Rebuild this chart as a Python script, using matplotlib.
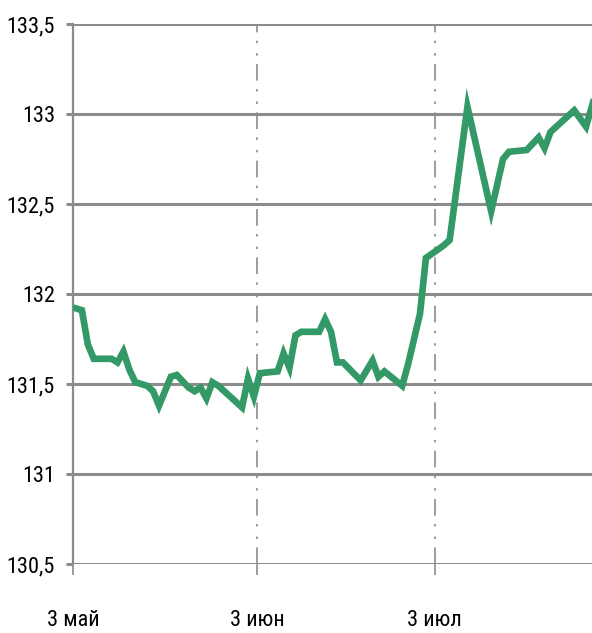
import numpy as np
import pandas as pd
import matplotlib
matplotlib.use("Agg")
import matplotlib.pyplot as plt
from matplotlib.ticker import FuncFormatter

# values
dates = [
    "2024-05-03", "2024-05-04", "2024-05-05", "2024-05-06", "2024-05-09",
    "2024-05-10", "2024-05-11", "2024-05-12", "2024-05-13", "2024-05-15",
    "2024-05-16", "2024-05-17", "2024-05-19", "2024-05-20", "2024-05-22",
    "2024-05-23", "2024-05-24", "2024-05-25", "2024-05-26", "2024-05-27",
    "2024-05-31", "2024-06-01", "2024-06-02", "2024-06-03", "2024-06-06",
    "2024-06-07", "2024-06-08", "2024-06-09", "2024-06-10", "2024-06-13",
    "2024-06-14", "2024-06-15", "2024-06-16", "2024-06-17", "2024-06-20",
    "2024-06-22", "2024-06-23", "2024-06-24", "2024-06-27", "2024-06-28",
    "2024-06-30", "2024-07-01", "2024-07-04", "2024-07-05", "2024-07-08",
    "2024-07-12", "2024-07-14", "2024-07-15", "2024-07-18", "2024-07-20",
    "2024-07-21", "2024-07-22", "2024-07-26", "2024-07-28", "2024-07-30",
]
values = [
    131.92, 131.91, 131.72, 131.64, 131.64,
    131.62, 131.68, 131.58, 131.51, 131.49,
    131.46, 131.38, 131.54, 131.55, 131.48,
    131.46, 131.48, 131.42, 131.51, 131.49,
    131.37, 131.53, 131.43, 131.56, 131.57,
    131.67, 131.59, 131.77, 131.79, 131.79,
    131.86, 131.79, 131.62, 131.62, 131.52,
    131.63, 131.54, 131.57, 131.49, 131.61,
    131.89, 132.20, 132.27, 132.30, 133.04,
    132.46, 132.75, 132.79, 132.80, 132.87,
    132.81, 132.90, 133.02, 132.93, 133.16,
]

x_ticks = ["2024-05-03", "2024-06-03", "2024-07-03"]
x_labels = ["3 май", "3 июн", "3 июл"]
y_ticks = [130.5, 131, 131.5, 132, 132.5, 133, 133.5]

LINE_COLOR = "#339966"
GRID_COLOR = "#8c8c8c"

# narrow font if there is one, otherwise Liberation Sans
plt.rcParams["font.family"] = ["Liberation Sans Narrow", "Roboto Condensed",
                               "Liberation Sans", "DejaVu Sans"]
plt.rcParams["font.stretch"] = "condensed"

fig = plt.figure(figsize=(5.92, 6.33), dpi=100)
ax = fig.add_axes([73 / 592, 1 - 564 / 633, 1 - 73 / 592, (564 - 24) / 633])

# each day's point sits in the middle of its day, like the original chart
x = pd.to_datetime(dates) + pd.Timedelta(hours=12)
ax.plot(x, values, color=LINE_COLOR, linewidth=4.8, solid_joinstyle="miter",
        zorder=3)

ax.set_ylim(130.5, 133.5)
ax.set_xlim(pd.Timestamp("2024-05-03"), pd.Timestamp("2024-07-29 12:00"))

# horizontal gridlines (solid), vertical ones dash-dot-dot
ax.set_yticks(y_ticks)
ax.yaxis.set_major_formatter(
    FuncFormatter(lambda v, p: ("%g" % v).replace(".", ",")))
ax.set_xticks(pd.to_datetime(x_ticks))
ax.set_xticklabels(x_labels)

ax.grid(axis="y", color=GRID_COLOR, linewidth=2.2, linestyle="-", zorder=1)
ax.grid(axis="x", color=GRID_COLOR, linewidth=1.2,
        linestyle=(0, (10, 5, 1.5, 6, 1.5, 5)), zorder=1)

for side in ["top", "right", "bottom"]:
    ax.spines[side].set_visible(False)
ax.spines["left"].set_color(GRID_COLOR)
ax.spines["left"].set_linewidth(1.6)

ax.tick_params(axis="y", length=5, width=2.2, color=GRID_COLOR, pad=8,
               labelsize=16)
ax.tick_params(axis="x", length=8, width=1.2, color=GRID_COLOR, pad=25,
               labelsize=16)

fig.savefig("out.png", dpi=100)
